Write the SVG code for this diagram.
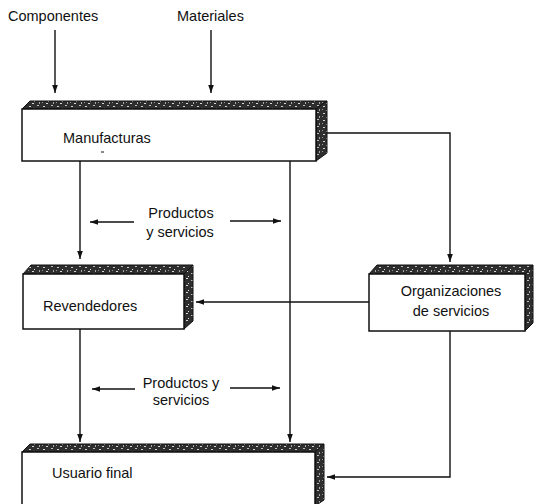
<svg xmlns="http://www.w3.org/2000/svg" width="536" height="504" viewBox="0 0 536 504">
<defs>
<pattern id="tex" width="14" height="7" patternUnits="userSpaceOnUse">
<rect width="14" height="7" fill="#2e2e2e"/>
<rect x="1" y="1" width="2" height="1" fill="#cfcfcf"/>
<rect x="6" y="3" width="1" height="1" fill="#e0e0e0"/>
<rect x="9" y="0" width="2" height="1" fill="#bbb"/>
<rect x="4" y="5" width="2" height="1" fill="#d8d8d8"/>
<rect x="11" y="4" width="1" height="2" fill="#aaa"/>
<rect x="0" y="4" width="1" height="1" fill="#999"/>
</pattern>
<marker id="ah" viewBox="0 0 10 10" refX="10" refY="5" markerWidth="8" markerHeight="8" markerUnits="userSpaceOnUse" orient="auto">
<path d="M0,1.5 L10,5 L0,8.5 Z" fill="#111"/>
</marker>
<style>
text{font-family:"Liberation Sans",Arial,sans-serif;font-size:14.5px;fill:#111}
.front{fill:#fff;stroke:#111;stroke-width:1.5}
.tex{fill:url(#tex);stroke:#111;stroke-width:1}
.ln{fill:none;stroke:#111;stroke-width:1.4}
.arr{fill:none;stroke:#111;stroke-width:1.4;marker-end:url(#ah)}
</style>
</defs>

<g id="inputs">
<text x="8" y="21">Componentes</text>
<text x="177" y="21">Materiales</text>
</g>

<g id="manufacturas">
<polygon class="tex" points="22,109 30,101 327,101 316,109"/>
<polygon class="tex" points="316,109 327,101 327,153 316,161"/>
<rect class="front" x="22" y="109" width="294" height="52"/>
<text x="63" y="143">Manufacturas</text>
<line x1="101" y1="152" x2="104" y2="152" stroke="#111" stroke-width="1"/>
</g>

<g id="revendedores">
<polygon class="tex" points="23,274 31,265 193,265 184,274"/>
<polygon class="tex" points="184,274 193,265 193,321 184,329"/>
<rect class="front" x="23" y="274" width="161" height="55"/>
<text x="43" y="311">Revendedores</text>
</g>

<g id="organizaciones">
<polygon class="tex" points="369,274 377,265 533,265 525,274"/>
<polygon class="tex" points="525,274 533,265 533,323 525,331"/>
<rect class="front" x="369" y="274" width="156" height="57"/>
<text x="451" y="296" text-anchor="middle">Organizaciones</text>
<text x="451" y="316" text-anchor="middle">de servicios</text>
</g>

<g id="usuario">
<polygon class="tex" points="22,452 30,444 324,444 315,452"/>
<polygon class="tex" points="315,452 324,444 324,500 315,506"/>
<rect class="front" x="22" y="452" width="293" height="54"/>
<text x="52" y="478">Usuario final</text>
</g>

<g id="labels">
<text x="181" y="218" text-anchor="middle">Productos</text>
<text x="180" y="237" text-anchor="middle">y servicios</text>
<text x="181" y="388" text-anchor="middle">Productos y</text>
<text x="181" y="405" text-anchor="middle">servicios</text>
</g>

<g id="connectors">
<line class="arr" x1="55" y1="30" x2="55" y2="93"/>
<line class="arr" x1="211" y1="30" x2="211" y2="93"/>
<line class="arr" x1="80" y1="161" x2="80" y2="259"/>
<line class="arr" x1="290" y1="161" x2="290" y2="442"/>
<polyline class="arr" points="327,133 450,133 450,262"/>
<line class="arr" x1="369" y1="302" x2="196" y2="302"/>
<line class="arr" x1="80" y1="329" x2="80" y2="442"/>
<polyline class="arr" points="450,331 450,477 327,477"/>
<line class="arr" x1="134" y1="222" x2="90" y2="222"/>
<line class="arr" x1="230" y1="221" x2="281" y2="221"/>
<line class="arr" x1="135" y1="389" x2="92" y2="389"/>
<line class="arr" x1="230" y1="388" x2="280" y2="388"/>
</g>
</svg>
